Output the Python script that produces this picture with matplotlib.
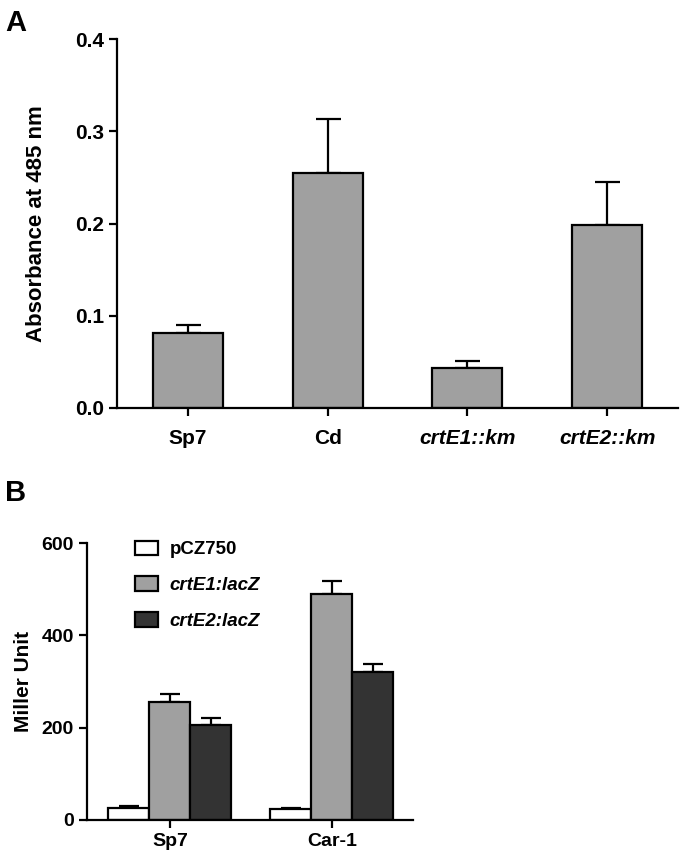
import matplotlib.pyplot as plt
import numpy as np

plt.rcParams['font.family'] = ['Liberation Sans', 'DejaVu Sans']

# Panel A: carotenoid absorbance
strains_a = ['Sp7', 'Cd', 'crtE1::km', 'crtE2::km']
absorb = [0.081, 0.255, 0.043, 0.198]
absorb_err = [0.009, 0.058, 0.008, 0.047]

# Panel B: beta-galactosidase activity
strains_b = ['Sp7', 'Car-1']
fusions = ['pCZ750', 'crtE1:lacZ', 'crtE2:lacZ']
miller = {
    'pCZ750': [26, 23],
    'crtE1:lacZ': [256, 490],
    'crtE2:lacZ': [206, 321],
}
miller_err = {
    'pCZ750': [4, 4],
    'crtE1:lacZ': [16, 28],
    'crtE2:lacZ': [14, 17],
}
fusion_colors = ['white', '#a0a0a0', '#333333']

fig = plt.figure(figsize=(6.8, 8.58), dpi=100)

def style_axes(ax):
    for side in ['top', 'right']:
        ax.spines[side].set_visible(False)
    for side in ['left', 'bottom']:
        ax.spines[side].set_linewidth(1.6)
    ax.tick_params(width=1.6, length=6, direction='out')

# ---- A ----
axA = fig.add_axes([0.172, 0.5245, 0.825, 0.430])
xa = np.arange(len(strains_a))
axA.bar(xa, absorb, width=0.5, color='#a0a0a0', edgecolor='black', linewidth=1.6, zorder=2)
axA.errorbar(xa, absorb, yerr=[np.zeros(len(absorb)), absorb_err], fmt='none',
             ecolor='black', elinewidth=1.6, capsize=9, capthick=1.6, zorder=1)
axA.set_xlim(-0.507, 3.507)
axA.set_ylim(0, 0.4)
axA.set_yticks([0.0, 0.1, 0.2, 0.3, 0.4])
axA.set_yticklabels(['0.0', '0.1', '0.2', '0.3', '0.4'], fontsize=15, fontweight='bold')
axA.set_xticks(xa)
axA.set_xticklabels(strains_a, fontsize=15, fontweight='bold')
for lbl in axA.get_xticklabels()[2:]:
    lbl.set_style('italic')
axA.set_ylabel('Absorbance at 485 nm', fontsize=16, fontweight='bold', labelpad=20)
style_axes(axA)
axA.tick_params(axis='x', pad=9)

# ---- B ----
axB = fig.add_axes([0.128, 0.0443, 0.479, 0.3228])
xb = np.arange(len(strains_b))
w = 0.253
for i, f in enumerate(fusions):
    pos = xb + (i - 1) * w
    axB.bar(pos, miller[f], width=w, color=fusion_colors[i], edgecolor='black',
            linewidth=1.6, label=f, zorder=2)
    axB.errorbar(pos, miller[f], yerr=[np.zeros(len(strains_b)), miller_err[f]], fmt='none',
                 ecolor='black', elinewidth=1.6, capsize=7, capthick=1.6, zorder=1)
axB.set_xlim(-0.512, 1.5)
axB.set_ylim(0, 600)
axB.set_yticks([0, 200, 400, 600])
axB.set_yticklabels(['0', '200', '400', '600'], fontsize=14, fontweight='bold')
axB.set_xticks(xb)
axB.set_xticklabels(strains_b, fontsize=14, fontweight='bold')
axB.set_ylabel('Miller Unit', fontsize=15, fontweight='bold', labelpad=6)
style_axes(axB)

leg = axB.legend(loc='upper left', bbox_to_anchor=(0.095, 1.07), frameon=False,
                 prop={'size': 13.5, 'weight': 'bold'}, handlelength=1.25, handleheight=0.85,
                 labelspacing=0.95, handletextpad=0.6)
for t in leg.get_texts()[1:]:
    t.set_style('italic')

fig.text(0.008, 0.99, 'A', fontsize=21, fontweight='bold', va='top')
fig.text(0.008, 0.442, 'B', fontsize=21, fontweight='bold', va='top')

fig.savefig('out.png', dpi=100)
